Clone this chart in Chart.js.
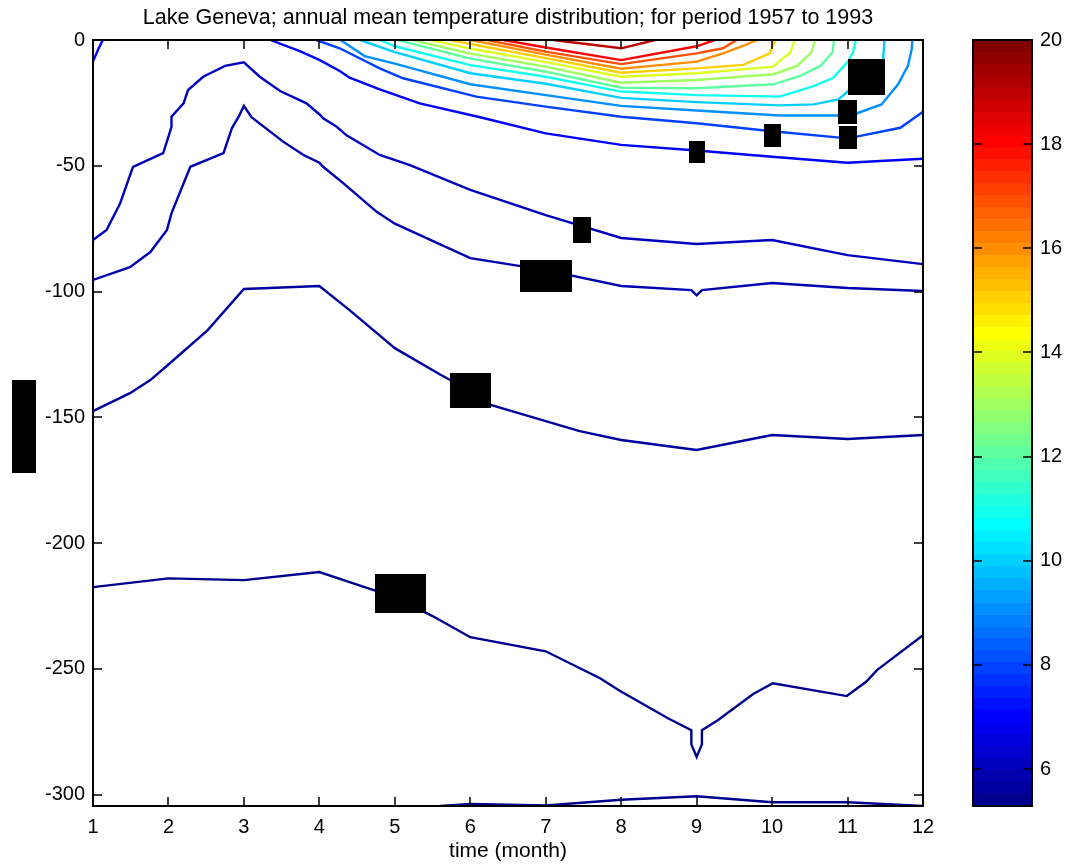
<!DOCTYPE html>
<html><head><meta charset="utf-8">
<script src="https://cdn.jsdelivr.net/npm/chart.js@4/dist/chart.umd.min.js"></script>
<style>
html,body{margin:0;padding:0;background:#fff;}
#wrap{position:relative;width:1080px;height:864px;overflow:hidden;}
#main{position:absolute;left:0;top:0;width:1080px;height:864px;}
#cbar{position:absolute;left:960px;top:0;width:120px;height:864px;}
</style></head><body>
<div id="wrap"><canvas id="main" width="1080" height="864"></canvas><canvas id="cbar" width="120" height="864"></canvas></div>
<script>
const FONT = '"Liberation Sans", Arial, Helvetica, sans-serif';
const TITLE = 'Lake Geneva; annual mean temperature distribution; for period 1957 to 1993';
const X_TITLE = 'time (month)';
const monthTicks = [1,2,3,4,5,6,7,8,9,10,11,12];
const depthTicks = [0,-50,-100,-150,-200,-250,-300];
const monthMin = 1, monthMax = 12;
const depthMin = -304.5, depthMax = 0;
const colorTicks = [6,8,10,12,14,16,18,20];
const tempMin = 5.29, tempMax = 20;

// contour levels (deg C) and their paths [month, depth]
const levelA = 5.4;
const lineA = [[5.6,-304.5],[6,-303.7],[7,-304.3],[8,-302],[9,-300.6],[10,-303],[11,-303],[12,-304.5]];
const levelB = 5.5;
const lineB = [[1,-217.5],[2,-214],[3,-214.7],[4,-211.5],[4.5,-216.5],[5,-221.5],[5.5,-229],[6,-237.4],[7,-243],[7.72,-253.7],[7.98,-258.7],[8.62,-269.6],[8.93,-274.4],[8.93,-280],[9,-285],[9.07,-280],[9.07,-274.4],[9.28,-270.4],[9.75,-260],[10.01,-255.7],[10.99,-260.8],[11.25,-255],[11.39,-250.5],[12,-236.6]];
const levelC = 5.65;
const lineC = [[1,-147.5],[1.49,-140.4],[1.76,-135.2],[2,-129],[2.52,-115.3],[3,-99],[4,-97.8],[4.4,-107.4],[5,-122.5],[5.6,-133],[6,-139.5],[6.26,-145],[7,-151.5],[7.45,-155.5],[8,-159],[9,-163],[10,-157],[11,-158.6],[12,-157]];
const levelD = 5.8;
const lineD = [[1,-95.4],[1.49,-90.3],[1.76,-84.3],[1.98,-75.5],[2.04,-68.9],[2.29,-50.4],[2.73,-45],[2.84,-35.1],[2.93,-30.5],[3,-26.2],[3.1,-30.7],[3.52,-40.4],[3.79,-45.7],[4,-48.8],[4.05,-50.4],[4.32,-57],[4.76,-68.3],[5,-73],[6,-86.7],[7,-91.5],[8,-97.8],[8.93,-99.4],[9,-101.5],[9.07,-99.4],[10,-96.6],[11,-98.6],[12,-99.8]];
const levelE = 6;
const lineE = [[1,-79.5],[1.18,-75.5],[1.36,-64.9],[1.53,-50.4],[1.93,-45],[2,-38.4],[2.04,-34.5],[2.04,-30.5],[2.2,-25.2],[2.26,-19.9],[2.46,-14.6],[2.75,-10.3],[3,-8.9],[3.21,-14.6],[3.48,-20.3],[3.83,-25.2],[4.01,-29.8],[4.05,-31.1],[4.23,-34.5],[4.36,-37.9],[4.8,-45.7],[5.2,-49.7],[6,-59.6],[7,-69.6],[8,-78.7],[9,-81.1],[10,-79.5],[11,-85.5],[12,-89.1]];
const levelF = 7;
const lineF = [[1,-8.5],[1.07,-3.7],[1.13,0]];
const levelG = 7;
const lineG = [[3.35,0],[3.74,-4.4],[4,-7.9],[4.27,-12.3],[4.4,-15],[4.8,-19.6],[5.33,-25.2],[6.13,-30.7],[7,-37.1],[8,-41.7],[9,-43.9],[10,-46.4],[11,-48.8],[12,-47.2]];
const levelH = 8;
const lineH = [[3.96,0],[4.27,-3.3],[4.8,-11.3],[5.11,-15.2],[6.08,-22.5],[7,-26.5],[8,-30.5],[9,-33.1],[10,-36.3],[11,-39.1],[11.12,-38.4],[11.7,-34.9],[12,-28.5]];
const levelI = 9;
const lineI = [[4.28,0],[4.6,-6.4],[5,-9.4],[6,-17.6],[7,-21.9],[8,-26.2],[9,-28],[10.1,-30],[10.88,-30],[11.12,-29.2],[11.45,-25.6],[11.67,-17.6],[11.8,-10.3],[11.85,-3.7],[11.86,0]];
const levelJ = 10;
const lineJ = [[4.54,0],[5,-4.8],[6,-13.2],[7,-17.4],[8,-23],[9,-24.7],[10.1,-26],[10.55,-25.6],[10.88,-23.6],[11.47,-8.3],[11.49,0]];
const levelK = 11;
const lineK = [[4.8,0],[5,-2.5],[6,-10],[7,-14.6],[8,-20.5],[9,-21.9],[10.1,-22.5],[10.55,-18.3],[10.81,-15],[11.01,-8.4],[11.07,-5],[11.11,0]];
const levelL = 12;
const lineL = [[5.04,0],[6,-7.4],[7,-12.6],[8,-19],[9,-19.2],[10.02,-17.6],[10.37,-14.3],[10.64,-10.3],[10.8,-5],[10.82,0]];
const levelM = 13;
const lineM = [[5.24,0],[6,-5.4],[7,-10.6],[8,-17],[9,-15.9],[10.02,-13.6],[10.33,-10.3],[10.52,-5],[10.57,0]];
const levelN = 14;
const lineN = [[5.47,0],[6,-3.4],[7,-8.8],[8,-14.6],[9,-13.2],[10.02,-10.6],[10.1,-8.3],[10.24,-5],[10.3,0]];
const levelO = 15;
const lineO = [[5.73,0],[6,-1.6],[7,-7.2],[8,-13],[9,-11.3],[9.62,-9.9],[9.97,-5.3],[10.04,0]];
const levelP = 16;
const lineP = [[6.0,0],[7,-5.8],[8,-11.4],[9,-8.6],[9.35,-5.3],[9.64,-2],[9.8,0]];
const levelQ = 17;
const lineQ = [[6.22,0],[7,-4.6],[8,-9.6],[9,-5.3],[9.35,-3.3],[9.53,0]];
const levelR = 18;
const lineR = [[6.44,0],[7,-3],[8,-8],[9,-2.5],[9.24,0]];
const levelS = 19;
const lineS = [[7.1,0],[8,-3.3],[8.45,0]];

const contourLevels = [levelA,levelB,levelC,levelD,levelE,levelF,levelG,levelH,levelI,levelJ,levelK,levelL,levelM,levelN,levelO,levelP,levelQ,levelR,levelS];
const contourLines  = [lineA,lineB,lineC,lineD,lineE,lineF,lineG,lineH,lineI,lineJ,lineK,lineL,lineM,lineN,lineO,lineP,lineQ,lineR,lineS];

// hidden label boxes: centre in data units, size in px
const labelBoxes = [
  {month:11.25, depth:-14.7, w:37, h:36},
  {month:11.0, depth:-28.6, w:19, h:24},
  {month:11.0, depth:-38.8, w:18, h:23},
  {month:10.0, depth:-37.8, w:17, h:23},
  {month:9.0, depth:-44.7, w:16, h:22},
  {month:7.48, depth:-75.5, w:18, h:26},
  {month:7.0, depth:-93.8, w:52, h:32},
  {month:6.0, depth:-139.2, w:41, h:35},
  {month:5.08, depth:-220.1, w:51, h:39}
];

// MATLAB jet(64)
function jet64(i){
  const r = i<=24?0 : i<=40?(i-24)/16 : i<=55?1 : (72-i)/16;
  const g = i<=8?0 : i<=24?(i-8)/16 : i<=39?1 : i<=55?(56-i)/16 : 0;
  const b = i<=8?(i+8)/16 : i<=23?1 : i<=39?(40-i)/16 : 0;
  return 'rgb('+Math.round(r*255)+','+Math.round(g*255)+','+Math.round(b*255)+')';
}
function levelColor(v){
  const idx = Math.min(64, Math.max(1, Math.floor((v-tempMin)/(tempMax-tempMin)*64)+1));
  return jet64(idx);
}

const framePlugin = {
  id:'frame',
  afterDatasetsDraw(chart){
    const {ctx, chartArea:a, scales:{x, y}} = chart;
    ctx.save();
    ctx.fillStyle = '#000';
    labelBoxes.forEach(b=>{
      const cx = x.getPixelForValue(b.month), cy = y.getPixelForValue(b.depth);
      ctx.fillRect(Math.round(cx-b.w/2), Math.round(cy-b.h/2), b.w, b.h);
    });
    // ticks (inward)
    ctx.strokeStyle = '#000';
    ctx.lineWidth = 1.5;
    const TL = 9;
    ctx.beginPath();
    x.ticks.forEach(t=>{
      const px = Math.round(x.getPixelForValue(t.value));
      ctx.moveTo(px, a.bottom); ctx.lineTo(px, a.bottom-TL);
      ctx.moveTo(px, a.top); ctx.lineTo(px, a.top+TL);
    });
    y.ticks.forEach(t=>{
      const py = Math.round(y.getPixelForValue(t.value));
      ctx.moveTo(a.left, py); ctx.lineTo(a.left+TL, py);
      ctx.moveTo(a.right, py); ctx.lineTo(a.right-TL, py);
    });
    ctx.stroke();
    // frame
    ctx.lineWidth = 2;
    ctx.strokeRect(a.left, a.top, a.right-a.left, a.bottom-a.top);
    ctx.restore();
  },
  afterDraw(chart){
    const {ctx, chartArea:a} = chart;
    ctx.save();
    ctx.fillStyle = '#000';
    ctx.font = '21.5px ' + FONT;
    ctx.textAlign = 'center';
    ctx.textBaseline = 'middle';
    ctx.fillText(TITLE, (a.left+a.right)/2, 18);
    // hidden y-axis title box
    ctx.fillRect(12, Math.round((a.top+a.bottom)/2 - 43), 24, 93);
    ctx.restore();
  }
};

new Chart(document.getElementById('main'), {
  type:'scatter',
  data:{
    datasets: contourLines.map((pts,i)=>({
      data: pts.map(p=>({x:p[0], y:p[1]})),
      showLine:true, pointRadius:0, borderWidth:2.4,
      borderColor: levelColor(contourLevels[i]),
      backgroundColor: levelColor(contourLevels[i]),
      tension:0, fill:false, clip:0
    }))
  },
  options:{
    responsive:false, animation:false, events:[],
    layout:{padding:{left:0, right:157, top:40, bottom:0}},
    plugins:{legend:{display:false}, tooltip:{enabled:false}, title:{display:false}},
    scales:{
      x:{type:'linear', min:monthMin, max:monthMax,
         grid:{display:false, drawTicks:false}, border:{display:false},
         ticks:{color:'#000', font:{family:FONT, size:20}, padding:9, maxRotation:0},
         title:{display:true, text:X_TITLE, color:'#000', font:{family:FONT, size:21}, padding:0},
         afterBuildTicks(s){ s.ticks = monthTicks.map(v=>({value:v})); },
         afterFit(s){ s.height = 58; }},
      y:{type:'linear', min:depthMin, max:depthMax,
         grid:{display:false, drawTicks:false}, border:{display:false},
         ticks:{color:'#000', font:{family:FONT, size:20}, padding:8},
         afterBuildTicks(s){ s.ticks = depthTicks.map(v=>({value:v})); },
         afterFit(s){ s.width = 93; }}
    }
  },
  plugins:[framePlugin]
});

// colour bar
const nBands = 64;
const bandStep = (tempMax-tempMin)/nBands;
const bandLows = Array.from({length:nBands}, (_,k)=> tempMin + k*bandStep);

const cbarPlugin = {
  id:'cbarFrame',
  afterDatasetsDraw(chart){
    const {ctx, chartArea:a, scales:{y}} = chart;
    ctx.save();
    ctx.strokeStyle = '#000';
    ctx.lineWidth = 1.5;
    const TL = 9;
    ctx.beginPath();
    y.ticks.forEach(t=>{
      const py = Math.round(y.getPixelForValue(t.value));
      ctx.moveTo(a.left, py); ctx.lineTo(a.left+TL, py);
      ctx.moveTo(a.right, py); ctx.lineTo(a.right-TL, py);
    });
    ctx.stroke();
    ctx.lineWidth = 2;
    ctx.strokeRect(a.left, a.top, a.right-a.left, a.bottom-a.top);
    ctx.restore();
  }
};

new Chart(document.getElementById('cbar'), {
  type:'bar',
  data:{
    labels:[''],
    datasets: bandLows.map((lo,k)=>({
      data:[[lo, lo+bandStep]],
      backgroundColor: jet64(k+1),
      borderWidth:0, barPercentage:1, categoryPercentage:1, grouped:false
    }))
  },
  options:{
    responsive:false, animation:false, events:[],
    layout:{padding:{left:13, right:0, top:40, bottom:58}},
    plugins:{legend:{display:false}, tooltip:{enabled:false}},
    scales:{
      x:{display:false},
      y:{position:'right', min:tempMin, max:tempMax,
         grid:{display:false, drawTicks:false}, border:{display:false},
         ticks:{color:'#000', font:{family:FONT, size:20}, padding:8},
         afterBuildTicks(s){ s.ticks = colorTicks.map(v=>({value:v})); },
         afterFit(s){ s.width = 48; }}
    }
  },
  plugins:[cbarPlugin]
});
</script>
</body></html>
